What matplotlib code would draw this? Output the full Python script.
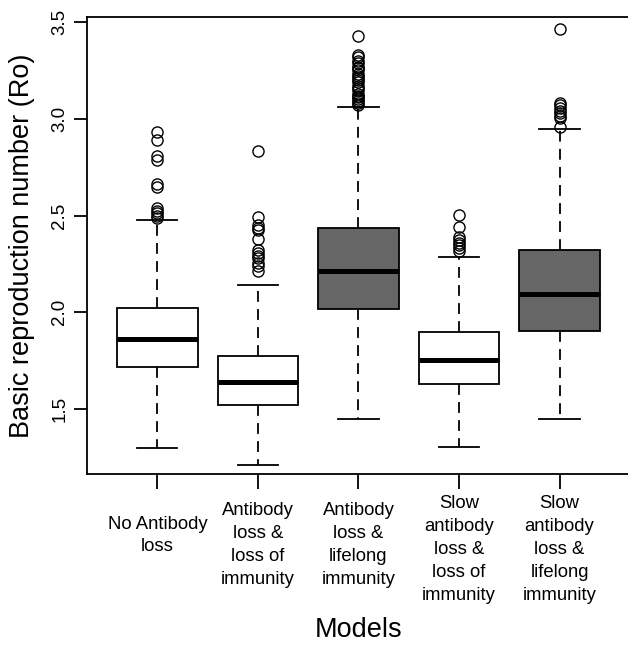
import matplotlib
matplotlib.use("Agg")
import matplotlib.pyplot as plt

plt.rcParams['font.family'] = ['Liberation Sans', 'DejaVu Sans']

# five model scenarios, box statistics
models = ["No Antibody\nloss",
          "Antibody\nloss &\nloss of\nimmunity",
          "Antibody\nloss &\nlifelong\nimmunity",
          "Slow\nantibody\nloss &\nloss of\nimmunity",
          "Slow\nantibody\nloss &\nlifelong\nimmunity"]
q1 = [1.719, 1.519, 2.016, 1.628, 1.905]
median = [1.862, 1.639, 2.214, 1.753, 2.096]
q3 = [2.021, 1.774, 2.435, 1.897, 2.324]
whisker_low = [1.297, 1.210, 1.447, 1.303, 1.450]
whisker_high = [2.478, 2.141, 3.061, 2.288, 2.947]
outliers_1 = [2.934, 2.891, 2.805, 2.788, 2.662, 2.647, 2.538, 2.525, 2.512, 2.498, 2.486]
outliers_2 = [2.834, 2.491, 2.450, 2.438, 2.426, 2.379, 2.322, 2.305, 2.290, 2.279, 2.254,
              2.240, 2.215]
outliers_3 = [3.430, 3.330, 3.320, 3.300, 3.290, 3.270, 3.260, 3.250, 3.230, 3.220, 3.210,
              3.200, 3.190, 3.170, 3.160, 3.150, 3.130, 3.120, 3.110, 3.100, 3.090, 3.080,
              3.070]
outliers_4 = [2.505, 2.443, 2.390, 2.374, 2.360, 2.348, 2.330, 2.314]
outliers_5 = [3.466, 3.084, 3.070, 3.055, 3.040, 3.029, 3.015, 3.004, 2.955]
outliers = [outliers_1, outliers_2, outliers_3, outliers_4, outliers_5]
fills = ["white", "white", "#666666", "white", "#666666"]

stats = []
for k in range(len(models)):
    stats.append(dict(q1=q1[k], med=median[k], q3=q3[k],
                      whislo=whisker_low[k], whishi=whisker_high[k], fliers=outliers[k]))

fig = plt.figure(figsize=(6.28, 6.45), dpi=100)
ax = fig.add_axes([87 / 628, 171 / 645, 543 / 628, 457 / 645])

lw = 1.3
bp = ax.bxp(stats, positions=range(1, 6), widths=0.8, patch_artist=True,
            boxprops=dict(linewidth=lw, edgecolor="black"),
            medianprops=dict(color="black", linewidth=3.6, solid_capstyle="butt"),
            whiskerprops=dict(color="black", linewidth=lw, linestyle=(0, (6, 4))),
            capprops=dict(color="black", linewidth=lw),
            capwidths=0.4,
            flierprops=dict(marker="o", markersize=8, markerfacecolor="none",
                            markeredgecolor="black", markeredgewidth=1.0))
for patch, col in zip(bp["boxes"], fills):
    patch.set_facecolor(col)

ax.set_xlim(0.3, 5.7)
ax.set_ylim(1.164, 3.526)

for side in ["left", "bottom", "top", "right"]:
    ax.spines[side].set_linewidth(lw)

ax.set_yticks([1.5, 2.0, 2.5, 3.0, 3.5])
ax.set_yticklabels(["1.5", "2.0", "2.5", "3.0", "3.5"], rotation=90, va="center",
                   fontsize=13.5)
ax.tick_params(axis="y", length=9.5, width=lw, pad=4)
ax.tick_params(axis="x", length=10.5, width=lw, labelbottom=False)
ax.set_xticks(range(1, 6))

# R centres multi-line axis labels at a fixed fraction of the block height
for k, lab in enumerate(models):
    n = lab.count("\n") + 1
    off = (55 - 6.7 * n) * 0.72
    ax.annotate(lab, xy=(k + 1, 0), xycoords=("data", "axes fraction"),
                xytext=(0, -off), textcoords="offset points",
                ha="center", va="top", fontsize=13.3, linespacing=1.45,
                multialignment="center")

ax.set_ylabel("Basic reproduction number (Ro)", fontsize=19.5)
ax.yaxis.set_label_coords(-0.096, 0.5)
ax.set_xlabel("Models", fontsize=19.5)
ax.xaxis.set_label_coords(0.5, -0.312)

fig.savefig("out.png", dpi=100)
